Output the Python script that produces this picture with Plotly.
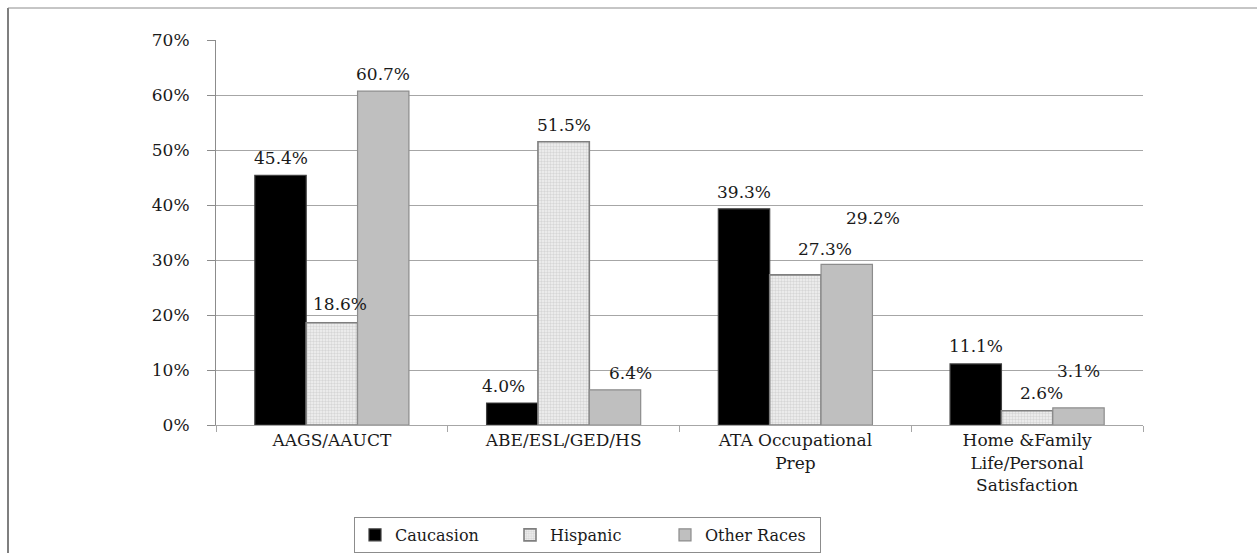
import plotly.graph_objects as go

# Enrollment share by program area and race/ethnicity (percent)
categories = [
    "AAGS/AAUCT",
    "ABE/ESL/GED/HS",
    "ATA Occupational<br>Prep",
    "Home &Family<br>Life/Personal<br>Satisfaction",
]
series_names = ["Caucasion", "Hispanic", "Other Races"]
caucasion = [45.4, 4.0, 39.3, 11.1]
hispanic = [18.6, 51.5, 27.3, 2.6]
other_races = [60.7, 6.4, 29.2, 3.1]
y_ticks = [0, 10, 20, 30, 40, 50, 60, 70]

# Page geometry (px)
W, H = 1257, 553
L, R, T, B = 216, 114, 40, 128
BARGAP = 0.335

FONT = "DejaVu Serif"
FS = 17
TXT = "#1a1a1a"
GRID = "#a6a6a6"
AXIS = "#8c8c8c"

# Label nudges (px) relative to the top-centre of each bar
label_dx = [
    [0, -9, 0, 0],
    [8, 0, 30, 14],
    [0, 15, 26, 0],
]
label_dy = [
    [17, 17, 17, 18],
    [19, 17, 26, 18],
    [17, 17, 46, 37],
]

values = [caucasion, hispanic, other_races]
fig = go.Figure()

fig.add_trace(go.Bar(
    name=series_names[0], x=categories, y=caucasion,
    marker=dict(color="#000000", line=dict(color="#404040", width=1.2)),
))
fig.add_trace(go.Bar(
    name=series_names[1], x=categories, y=hispanic,
    marker=dict(
        color="#efefef",
        line=dict(color="#7f7f7f", width=1.6),
        pattern=dict(shape=".", fgcolor="#d6d6d6", bgcolor="#f3f3f3",
                     size=3, solidity=0.5, fillmode="replace"),
    ),
))
fig.add_trace(go.Bar(
    name=series_names[2], x=categories, y=other_races,
    marker=dict(color="#bfbfbf", line=dict(color="#8c8c8c", width=1.2)),
))

# Value labels
bw = (1 - BARGAP) / 3
for s, vals in enumerate(values):
    for i, v in enumerate(vals):
        fig.add_annotation(
            x=i + (s - 1) * bw, y=v, xref="x", yref="y",
            text=f"{v:.1f}%", showarrow=False,
            xanchor="center", yanchor="middle",
            xshift=label_dx[s][i], yshift=label_dy[s][i],
            font=dict(family=FONT, size=FS, color=TXT),
        )

# Outer frame (left and top edges)
pw, ph = W - L - R, H - T - B
def px_x(x):
    return (x - L) / pw
def px_y(y):
    return (H - B - y) / ph

fig.add_shape(type="line", xref="paper", yref="paper",
              x0=px_x(8), x1=px_x(8), y0=px_y(8), y1=px_y(H),
              line=dict(color="#7f7f7f", width=2))
fig.add_shape(type="line", xref="paper", yref="paper",
              x0=px_x(8), x1=px_x(W), y0=px_y(8), y1=px_y(8),
              line=dict(color="#8c8c8c", width=1))

fig.update_layout(
    width=W, height=H,
    margin=dict(l=L, r=R, t=T, b=B, pad=0, autoexpand=False),
    paper_bgcolor="white", plot_bgcolor="white",
    barmode="group", bargap=BARGAP, bargroupgap=0,
    font=dict(family=FONT, size=FS, color=TXT),
    showlegend=True,
    legend=dict(
        orientation="h",
        xref="paper", yref="paper",
        x=px_x(587.5), xanchor="center",
        y=px_y(517), yanchor="top",
        bgcolor="white", bordercolor="#8c8c8c", borderwidth=1,
        font=dict(family=FONT, size=16, color=TXT),
        itemwidth=30, tracegroupgap=0,
        entrywidth=110, entrywidthmode="pixels",
    ),
    xaxis=dict(
        type="category", automargin=False,
        showline=True, linecolor=GRID, linewidth=1,
        ticks="outside", tickson="boundaries", ticklen=6,
        tickcolor=GRID, tickwidth=1,
        showgrid=False,
        tickfont=dict(family=FONT, size=FS, color=TXT),
    ),
    yaxis=dict(
        range=[0, 70], automargin=False,
        tickvals=y_ticks,
        ticktext=[f"{t}%" for t in y_ticks],
        showline=True, linecolor=AXIS, linewidth=1,
        ticks="outside", ticklen=8, tickcolor=AXIS, tickwidth=1,
        showgrid=True, gridcolor=GRID, gridwidth=1,
        zeroline=False,
        tickfont=dict(family=FONT, size=FS, color=TXT),
        ticklabelstandoff=14,
    ),
)

fig.write_html("out.html")
